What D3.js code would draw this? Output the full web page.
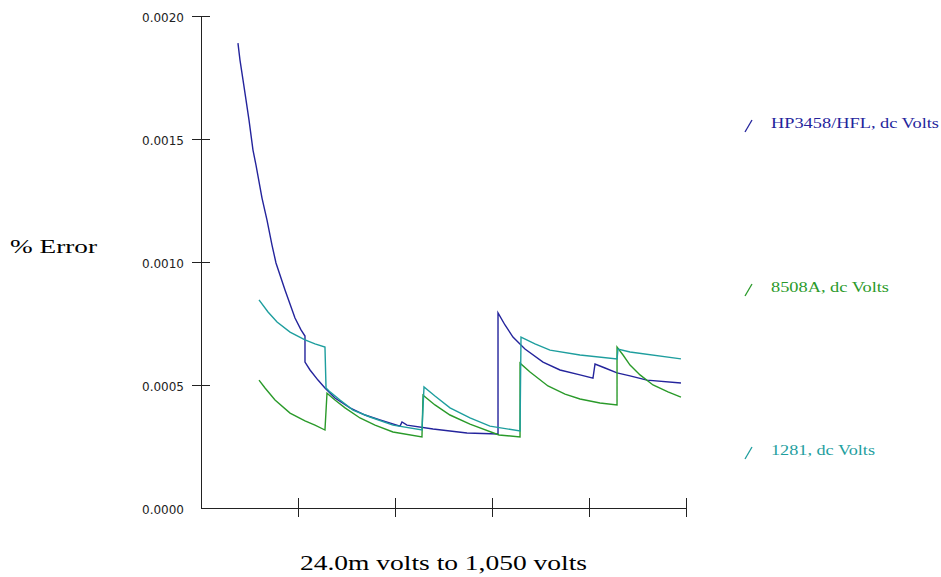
<!DOCTYPE html>
<html>
<head>
<meta charset="utf-8">
<script src="https://cdn.jsdelivr.net/npm/d3@7"></script>
<style>
  body { margin: 0; background: #fff; }
  .axis path, .axis line { stroke: #222; shape-rendering: crispEdges; }
  .axis text { font-family: "DejaVu Sans", sans-serif; font-size: 12px; fill: #222; }
</style>
</head>
<body>
<div id="chart-area"></div>
<script>
// x in axis steps (5 steps across), y in % error
const yTicks = [0, 0.0005, 0.0010, 0.0015, 0.0020]
const xTicks = [1, 2, 3, 4, 5]

const hp3458 = [
    [0.381, 0.001890], [0.402, 0.001821], [0.433, 0.001740], [0.464, 0.001659],
    [0.495, 0.001577], [0.536, 0.001455], [0.567, 0.001394], [0.629, 0.001260],
    [0.680, 0.001171], [0.732, 0.001069], [0.773, 0.000996], [0.866, 0.000886],
    [0.969, 0.000772], [1.031, 0.000724], [1.072, 0.000699],
    [1.072, 0.000593], [1.124, 0.000561], [1.206, 0.000520], [1.278, 0.000488],
    [1.381, 0.000447], [1.536, 0.000407], [1.691, 0.000378], [1.845, 0.000358],
    [2.052, 0.000333], [2.072, 0.000350], [2.124, 0.000337], [2.392, 0.000321],
    [2.742, 0.000305], [3.062, 0.000301],
    [3.062, 0.000793], [3.134, 0.000744], [3.216, 0.000695], [3.340, 0.000646],
    [3.526, 0.000593], [3.701, 0.000561], [3.907, 0.000541], [4.041, 0.000528],
    [4.062, 0.000585], [4.165, 0.000569], [4.289, 0.000549], [4.423, 0.000537],
    [4.598, 0.000520], [4.948, 0.000508]
]
const a8508 = [
    [0.598, 0.000520], [0.660, 0.000488], [0.763, 0.000439], [0.918, 0.000386],
    [1.072, 0.000354], [1.175, 0.000337], [1.278, 0.000317],
    [1.299, 0.000467], [1.381, 0.000439], [1.485, 0.000407], [1.639, 0.000366],
    [1.794, 0.000337], [1.979, 0.000309], [2.278, 0.000289],
    [2.289, 0.000459], [2.412, 0.000419], [2.567, 0.000378], [2.773, 0.000341],
    [3.072, 0.000297], [3.289, 0.000289],
    [3.289, 0.000589], [3.392, 0.000553], [3.577, 0.000496], [3.753, 0.000463],
    [3.907, 0.000443], [4.113, 0.000427], [4.289, 0.000419],
    [4.289, 0.000654], [4.351, 0.000622], [4.423, 0.000581], [4.526, 0.000541],
    [4.660, 0.000500], [4.814, 0.000472], [4.948, 0.000451]
]
const f1281 = [
    [0.598, 0.000846], [0.691, 0.000797], [0.784, 0.000756], [0.918, 0.000715],
    [1.072, 0.000683], [1.175, 0.000667], [1.278, 0.000654],
    [1.289, 0.000488], [1.330, 0.000472], [1.433, 0.000439], [1.567, 0.000398],
    [1.742, 0.000370], [1.979, 0.000337], [2.278, 0.000317],
    [2.299, 0.000492], [2.412, 0.000455], [2.567, 0.000407], [2.773, 0.000366],
    [2.979, 0.000333], [3.289, 0.000313],
    [3.299, 0.000695], [3.443, 0.000667], [3.598, 0.000642], [3.907, 0.000622],
    [4.289, 0.000606], [4.299, 0.000646], [4.423, 0.000634], [4.948, 0.000606]
]

const seriesNames = ["HP3458/HFL, dc Volts", "8508A, dc Volts", "1281, dc Volts"]
const seriesData = [hp3458, a8508, f1281]
const seriesColors = ["#24249c", "#2a9a2a", "#1e9e9e"]
const legendY = [128, 292, 455]
const legendW = [168, 118, 104]

const MARGIN = {LEFT: 201, RIGHT: 255, TOP: 16, BOTTOM: 69}
const WIDTH = 941 - MARGIN.LEFT - MARGIN.RIGHT
const HEIGHT = 577 - MARGIN.TOP - MARGIN.BOTTOM

const svg = d3.select("#chart-area").append("svg")
    .attr("width", 941)
    .attr("height", 577)

const g = svg.append("g")
    .attr("transform", `translate(${MARGIN.LEFT},${MARGIN.TOP})`)

const x = d3.scaleLinear().domain([0, 5]).range([0, WIDTH])
const y = d3.scaleLinear().domain([0, 0.002]).range([HEIGHT, 0])

// y axis, ticks cross the line
const yAxis = g.append("g")
    .attr("class", "axis")
    .call(d3.axisLeft(y).tickValues(yTicks).tickFormat(d3.format(".4f")).tickSizeOuter(0).tickPadding(11))
yAxis.selectAll(".tick line").attr("x1", 9).attr("x2", -9)
yAxis.selectAll(".tick").filter(d => d === 0).select("line").remove()
yAxis.selectAll(".tick text").attr("dy", "0.45em")

// x axis
const xAxis = g.append("g")
    .attr("class", "axis")
    .attr("transform", `translate(0,${HEIGHT})`)
    .call(d3.axisBottom(x).tickValues(xTicks).tickFormat("").tickSizeOuter(0))
xAxis.selectAll(".tick line").attr("y1", -10).attr("y2", 9)

const line = d3.line().x(d => x(d[0])).y(d => y(d[1]))

seriesData.forEach((data, i) => {
    g.append("path")
        .datum(data)
        .attr("fill", "none")
        .attr("stroke", seriesColors[i])
        .attr("stroke-width", 1.4)
        .attr("d", line)
})

// legend
seriesNames.forEach((name, i) => {
    svg.append("line")
        .attr("x1", 745).attr("y1", legendY[i] + 4)
        .attr("x2", 752).attr("y2", legendY[i] - 8)
        .attr("stroke", seriesColors[i])
        .attr("stroke-width", 1.3)
    svg.append("text")
        .attr("x", 771)
        .attr("y", legendY[i])
        .attr("font-family", "Liberation Serif, serif")
        .attr("font-size", "15px")
        .attr("fill", seriesColors[i])
        .attr("textLength", legendW[i])
        .attr("lengthAdjust", "spacingAndGlyphs")
        .text(name)
})

// y label
svg.append("text")
    .attr("x", 10)
    .attr("y", 253)
    .attr("font-family", "Liberation Serif, serif")
    .attr("font-size", "19px")
    .attr("textLength", 87)
    .attr("lengthAdjust", "spacingAndGlyphs")
    .text("% Error")

// x label
svg.append("text")
    .attr("x", 300)
    .attr("y", 570)
    .attr("font-family", "Liberation Serif, serif")
    .attr("font-size", "21px")
    .attr("textLength", 287)
    .attr("lengthAdjust", "spacingAndGlyphs")
    .text("24.0m volts to 1,050 volts")
</script>
</body>
</html>
